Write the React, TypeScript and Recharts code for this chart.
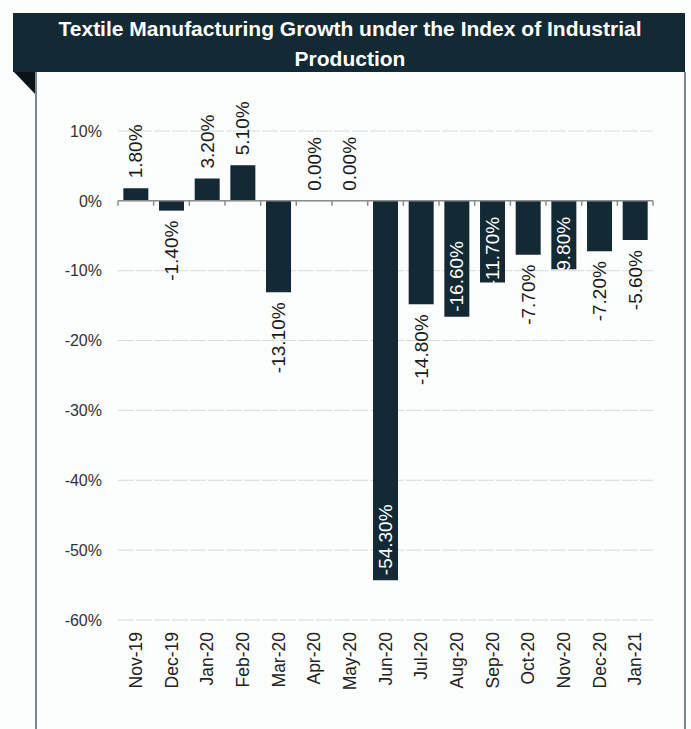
import React from "react";
import { BarChart, Bar, XAxis, YAxis, CartesianGrid, ReferenceLine, LabelList } from "recharts";

const categories = [
  "Nov-19", "Dec-19", "Jan-20", "Feb-20", "Mar-20", "Apr-20", "May-20", "Jun-20",
  "Jul-20", "Aug-20", "Sep-20", "Oct-20", "Nov-20", "Dec-20", "Jan-21",
];

const growth = [1.8, -1.4, 3.2, 5.1, -13.1, 0, 0, -54.3, -14.8, -16.6, -11.7, -7.7, -9.8, -7.2, -5.6];

const yTicks = [10, 0, -10, -20, -30, -40, -50, -60];

// where each data label sits (as in the source sheet)
const labelPlacement = [
  "out", "out", "out", "out", "out", "out", "out", "inEnd",
  "out", "inEnd", "inBase", "out", "inBase", "out", "out",
];

const data = categories.map((month, i) => ({ month, growth: growth[i] }));

const FONT = "'Liberation Sans', Arial, sans-serif";
const BAR = "#132934";

const BarLabel = (props: any) => {
  const { x, y, width, height, value } = props;
  const idx = categories.indexOf(value);
  const v = growth[idx];
  const cx = x + width / 2;
  const top = Math.min(y, y + height);
  const bottom = Math.max(y, y + height);
  const place = labelPlacement[idx];
  const text = `${v.toFixed(2)}%`;
  let ay = 0;
  let anchor = "start";
  let fill = "#1a1a1a";
  if (v >= 0) {
    ay = top - 10;
  } else if (place === "inEnd") {
    ay = bottom - 5;
    fill = "#ffffff";
  } else if (place === "inBase") {
    ay = top + 16;
    anchor = "end";
    fill = "#ffffff";
  } else {
    ay = bottom + 10;
    anchor = "end";
  }
  return (
    <text
      x={cx}
      y={ay}
      transform={`rotate(-90 ${cx} ${ay})`}
      textAnchor={anchor}
      dominantBaseline="central"
      fill={fill}
      fontSize={19}
      fontFamily={FONT}
    >
      {text}
    </text>
  );
};

const MonthTick = (props: any) => {
  const { x, y, payload } = props;
  return (
    <text
      x={x}
      y={y}
      transform={`rotate(-90 ${x} ${y})`}
      textAnchor="end"
      dominantBaseline="central"
      fill="#222"
      fontSize={17.5}
      fontFamily={FONT}
    >
      {payload.value}
    </text>
  );
};

const ZeroAxis = (props: any) => {
  const { x1, x2, y1 } = props;
  const step = (x2 - x1) / categories.length;
  return (
    <g>
      <line x1={x1} x2={x2} y1={y1} y2={y1} stroke="#8c8c8c" strokeWidth={1.5} />
      {Array.from({ length: categories.length + 1 }).map((_, i) => (
        <line key={i} x1={x1 + i * step} x2={x1 + i * step} y1={y1} y2={y1 + 5} stroke="#8c8c8c" strokeWidth={1.5} />
      ))}
    </g>
  );
};

const App: React.FC = () => {
  return (
    <div style={{ position: "absolute", left: 0, top: 0, width: 691, height: 729, background: "#fcfdfd", fontFamily: FONT }}>
      <svg width={691} height={729} style={{ position: "absolute", left: 0, top: 0 }}>
        <rect x={13} y={13} width={672} height={59} fill="#132934" />
        <polygon points="14,72 36,72 36,95" fill="#0a1417" />
        <line x1={36} y1={72} x2={36} y2={729} stroke="#7b8794" strokeWidth={2} />
        <line x1={685} y1={72} x2={685} y2={729} stroke="#7b8794" strokeWidth={2} />
        <text x={350} y={36} textAnchor="middle" fill="#ffffff" fontSize={21} fontWeight="bold" fontFamily={FONT}>
          Textile Manufacturing Growth under the Index of Industrial
        </text>
        <text x={350} y={66} textAnchor="middle" fill="#ffffff" fontSize={21} fontWeight="bold" fontFamily={FONT}>
          Production
        </text>
      </svg>
      <div style={{ position: "absolute", left: 0, top: 0 }}>
        <BarChart
          width={691}
          height={729}
          data={data}
          margin={{ top: 131, right: 38, bottom: 9, left: 58 }}
          barCategoryGap="15%"
        >
          <CartesianGrid vertical={false} stroke="#d9d9d9" strokeDasharray="16 2" />
          <XAxis
            dataKey="month"
            height={100}
            axisLine={false}
            tickLine={false}
            tickSize={0}
            tickMargin={12}
            interval={0}
            tick={<MonthTick />}
          />
          <YAxis
            width={60}
            domain={[-60, 10]}
            ticks={yTicks}
            axisLine={false}
            tickLine={false}
            tickSize={0}
            tickMargin={16}
            tickFormatter={(v: number) => `${v}%`}
            tick={{ fill: "#333", fontSize: 16, fontFamily: FONT }}
          />
          <Bar dataKey="growth" fill={BAR} minPointSize={0.01} isAnimationActive={false}>
            <LabelList dataKey="month" content={<BarLabel />} />
          </Bar>
          <ReferenceLine y={0} shape={(p: any) => <ZeroAxis {...p} />} />
        </BarChart>
      </div>
    </div>
  );
};

export default App;
